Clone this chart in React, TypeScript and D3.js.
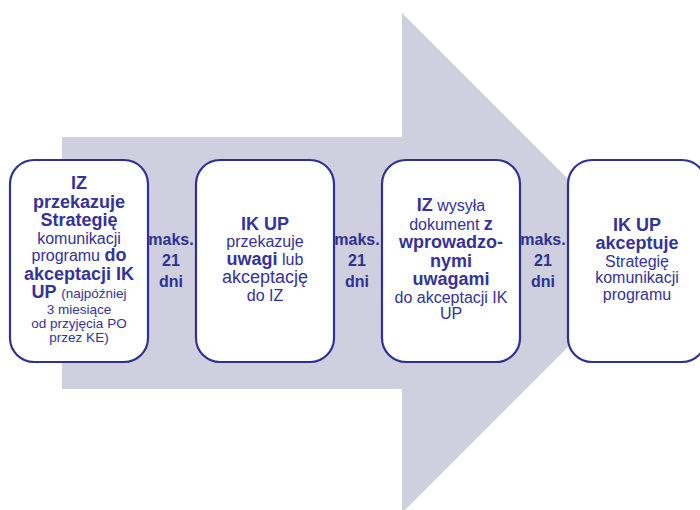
import React from "react";
import { scaleBand, line } from "d3";

type Seg = [string, "b" | "r" | "s"];

// step texts, line by line; each line is a list of [text, weight] segments
const step1: Seg[][] = [
	[["IZ", "b"]],
	[["przekazuje", "b"]],
	[["Strategię", "b"]],
	[["komunikacji", "r"]],
	[["programu ", "r"], ["do", "b"]],
	[["akceptacji IK", "b"]],
	[["UP ", "b"], ["(najpóźniej", "s"]],
	[["3 miesiące", "s"]],
	[["od przyjęcia PO", "s"]],
	[["przez KE)", "s"]]
];
const step2: Seg[][] = [
	[["IK UP", "b"]],
	[["przekazuje", "r"]],
	[["uwagi", "b"], [" lub", "r"]],
	[["akceptację", "L"as any]],
	[["do IZ", "r"]]
];
const step3: Seg[][] = [
	[["IZ", "b"], [" wysyła", "r"]],
	[["dokument ", "r"], ["z", "b"]],
	[["wprowadzo-", "b"]],
	[["nymi", "b"]],
	[["uwagami", "b"]],
	[["do akceptacji IK", "r"]],
	[["UP", "r"]]
];
const step4: Seg[][] = [
	[["IK UP", "b"]],
	[["akceptuje", "b"]],
	[["Strategię", "r"]],
	[["komunikacji", "r"]],
	[["programu", "r"]]
];
const steps = [step1, step2, step3, step4];
const gapLabel = ["maks.", "21", "dni"];

const W = 700;
const H = 510;
const boxTop = 160;
const boxBottom = 362;
const arrowFill = "#cfcfe0";
const navy = "#2e3192";
const textColor = "#333399";

const sizes: Record<string, number> = { b: 18, r: 16, L: 18, s: 13.5 };
const weights: Record<string, number> = { b: 700, r: 400, L: 400, s: 400 };

const x = scaleBand<number>()
	.domain(steps.map((_, i) => i))
	.range([10, 706])
	.paddingInner(0.258)
	.paddingOuter(0);

const lineSize = (ln: Seg[]) => Math.max(...ln.map((s) => sizes[s[1]]));

const StepText: React.FC<{ lines: Seg[][]; cx: number }> = ({ lines, cx }) => {
	const sz = lines.map(lineSize);
	const base: number[] = [0];
	for (let i = 1; i < sz.length; i++) {
		base.push(base[i - 1] + 1.03 * (sz[i - 1] + sz[i]) / 2);
	}
	const top = -0.72 * sz[0];
	const bottom = base[base.length - 1] + 0.2 * sz[sz.length - 1];
	const center = (boxTop + boxBottom) / 2 - 0.5;
	const shift = center - (top + bottom) / 2;
	return (
		<g>
			{lines.map((ln, i) => (
				<text key={i} x={cx} y={base[i] + shift} textAnchor="middle" fill={textColor} style={{ whiteSpace: "pre" }}>
					{ln.map((s, j) => (
						<tspan key={j} fontSize={sizes[s[1]]} fontWeight={weights[s[1]]}>{s[0]}</tspan>
					))}
				</text>
			))}
		</g>
	);
};

export default function App() {
	// big background arrow
	const bodyTop = 137;
	const bodyBottom = 389;
	const bodyLeft = 62;
	const headX = 402;
	const headTop = 13;
	const mid = (bodyTop + bodyBottom) / 2;
	const headBottom = 2 * mid - headTop;
	const tipX = headX + (mid - headTop);
	const arrowPath = line()([
		[bodyLeft, bodyTop], [headX, bodyTop], [headX, headTop], [tipX, mid],
		[headX, headBottom], [headX, bodyBottom], [bodyLeft, bodyBottom]
	]) + "Z";

	const bw = x.bandwidth();
	const step = x.step();

	return (
		<svg width={W} height={H} style={{ position: "absolute", left: 0, top: 0, fontFamily: "'Liberation Sans', Arial, sans-serif" }}>
			<rect width={W} height={H} fill="#ffffff" />
			<path d={arrowPath} fill={arrowFill} />
			{steps.map((lines, i) => (
				<g key={i}>
					<rect x={x(i)} y={boxTop} width={bw} height={boxBottom - boxTop} rx={24} ry={24}
						fill="#ffffff" stroke={navy} strokeWidth={2.2} />
					<StepText lines={lines} cx={(x(i) as number) + bw / 2} />
				</g>
			))}
			{steps.slice(0, -1).map((_, i) => {
				const cx = (x(i) as number) + bw + (step - bw) / 2 - 1;
				return (
					<g key={"g" + i}>
						{gapLabel.map((t, k) => (
							<text key={k} x={cx} y={244.5 + k * 21} textAnchor="middle" fontSize={16}
								fontWeight={700} fill={navy}>{t}</text>
						))}
					</g>
				);
			})}
		</svg>
	);
}
